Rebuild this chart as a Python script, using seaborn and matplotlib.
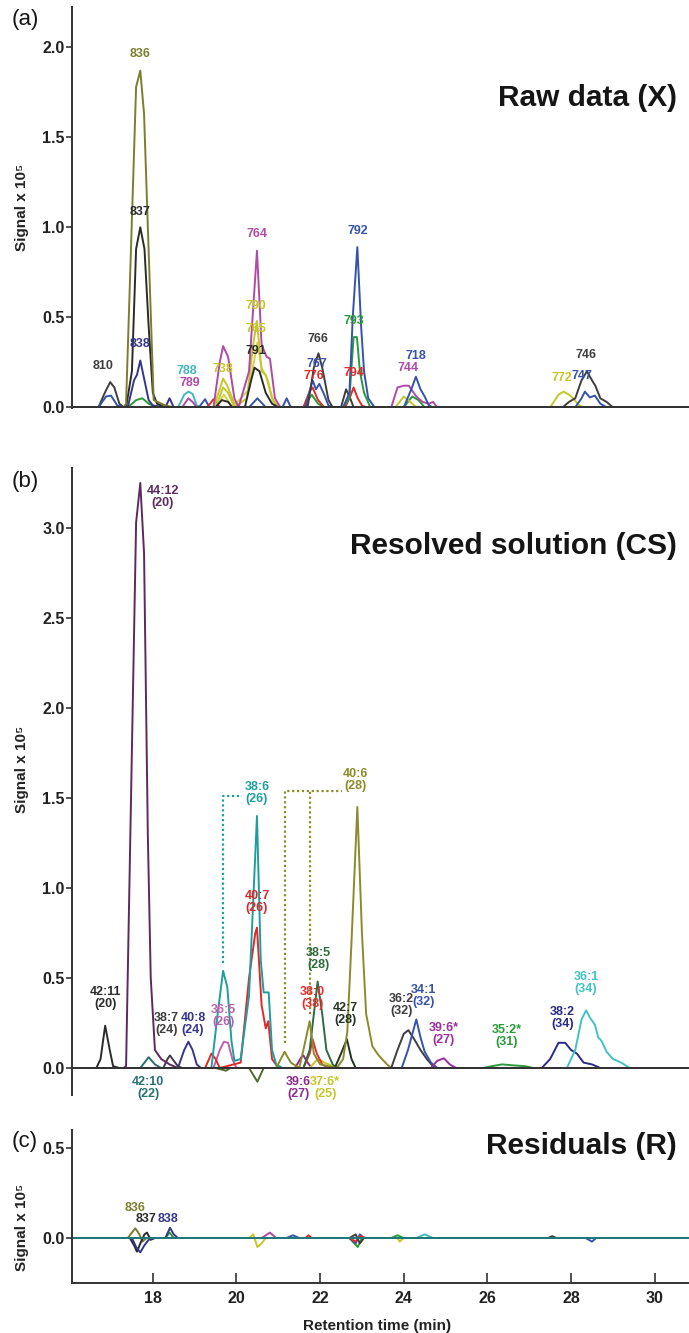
import matplotlib
matplotlib.use("Agg")
import matplotlib.pyplot as plt
import pandas as pd
import seaborn as sns

sns.set_theme(style="white")
plt.rcParams['font.family'] = ['Liberation Sans', 'DejaVu Sans']
plt.rcParams['font.weight'] = 'bold'

# ---------------------------------------------------------------------------
# Retention-time window (min)
T0, T1 = 16.06, 30.82

# ---------------------------------------------------------------------------
# (a) Raw extracted-ion chromatograms, (time, signal x 1e5) vertices per m/z
a_810 = [(16.7, 0.0), (16.85, 0.08), (16.98, 0.14), (17.08, 0.11), (17.2, 0.02), (17.3, 0.0)]
a_blue = [(16.7, 0.0), (16.88, 0.06), (17.0, 0.065), (17.15, 0.01), (17.3, 0.0),
          (19.1, 0.0), (19.25, 0.045), (19.35, 0.0), (20.3, 0.0), (20.5, 0.05), (20.7, 0.0),
          (21.1, 0.0), (21.2, 0.05), (21.3, 0.0)]
a_green = [(17.4, 0.0), (17.6, 0.04), (17.75, 0.05), (17.9, 0.02), (18.1, 0.0),
           (21.6, 0.0), (21.8, 0.07), (21.95, 0.02), (22.1, 0.0),
           (24.0, 0.0), (24.2, 0.06), (24.35, 0.04), (24.5, 0.0)]
a_836 = [(17.3, 0.0), (17.36, 0.02), (17.6, 1.78), (17.7, 1.87), (17.79, 1.63), (18.02, 0.04),
         (18.3, 0.01), (18.5, 0.0)]
a_837 = [(17.36, 0.0), (17.5, 0.2), (17.6, 0.88), (17.7, 1.0), (17.8, 0.88), (17.9, 0.45),
         (18.0, 0.08), (18.1, 0.02), (18.3, 0.0), (19.5, 0.0), (19.65, 0.04), (19.8, 0.03), (19.9, 0.0)]
a_838 = [(17.4, 0.0), (17.55, 0.15), (17.62, 0.18), (17.7, 0.26), (17.8, 0.15), (17.9, 0.04),
         (18.0, 0.01), (18.3, 0.0), (18.4, 0.05), (18.5, 0.0)]
a_788 = [(18.6, 0.0), (18.75, 0.07), (18.85, 0.087), (18.95, 0.075), (19.05, 0.01), (19.15, 0.0)]
a_789 = [(18.7, 0.0), (18.85, 0.05), (18.95, 0.03), (19.05, 0.0)]
a_776 = [(19.3, 0.0), (19.45, 0.045), (19.6, 0.0), (21.6, 0.0), (21.75, 0.09), (21.82, 0.11),
         (21.95, 0.04), (22.1, 0.0)]
a_764 = [(19.45, 0.0), (19.6, 0.25), (19.68, 0.34), (19.8, 0.28), (19.95, 0.05), (20.05, 0.0),
         (20.3, 0.2), (20.49, 0.87), (20.6, 0.35), (20.72, 0.28), (20.8, 0.27), (20.92, 0.05), (21.05, 0.0)]
a_738 = [(19.45, 0.0), (19.6, 0.1), (19.68, 0.16), (19.78, 0.12), (19.95, 0.02), (20.05, 0.0),
         (23.8, 0.0), (24.0, 0.06), (24.15, 0.03), (24.3, 0.0)]
a_790 = [(19.5, 0.0), (19.68, 0.11), (19.8, 0.08), (19.95, 0.0), (20.25, 0.05), (20.4, 0.35),
         (20.49, 0.48), (20.6, 0.2), (20.7, 0.18), (20.85, 0.05), (21.0, 0.0)]
a_765 = [(19.5, 0.0), (19.7, 0.07), (19.9, 0.0), (20.3, 0.1), (20.5, 0.36), (20.6, 0.22),
         (20.75, 0.15), (20.88, 0.03), (21.0, 0.0)]
a_791 = [(20.2, 0.0), (20.35, 0.15), (20.43, 0.22), (20.55, 0.2), (20.7, 0.08), (20.85, 0.02), (21.0, 0.0)]
a_766 = [(21.7, 0.0), (21.85, 0.22), (21.96, 0.30), (22.05, 0.22), (22.2, 0.04), (22.3, 0.0),
         (22.5, 0.0), (22.62, 0.1), (22.72, 0.05), (22.8, 0.0)]
a_767 = [(21.65, 0.0), (21.82, 0.15), (21.9, 0.1), (21.98, 0.13), (22.08, 0.08), (22.2, 0.01), (22.3, 0.0)]
a_792 = [(22.55, 0.0), (22.7, 0.08), (22.78, 0.5), (22.89, 0.89), (22.98, 0.45), (23.05, 0.2),
         (23.15, 0.05), (23.3, 0.0)]
a_793 = [(22.55, 0.0), (22.7, 0.05), (22.8, 0.39), (22.88, 0.39), (22.95, 0.2), (23.05, 0.08), (23.2, 0.0)]
a_794 = [(22.6, 0.0), (22.72, 0.06), (22.8, 0.11), (22.9, 0.05), (23.0, 0.01), (23.1, 0.0)]
a_744 = [(23.7, 0.0), (23.85, 0.11), (24.0, 0.12), (24.12, 0.12), (24.3, 0.06), (24.45, 0.03),
         (24.6, 0.02), (24.7, 0.03), (24.8, 0.0)]
a_718 = [(24.0, 0.0), (24.18, 0.1), (24.29, 0.17), (24.4, 0.1), (24.5, 0.06), (24.6, 0.01), (24.7, 0.0)]
a_772 = [(27.5, 0.0), (27.7, 0.07), (27.82, 0.087), (27.95, 0.07), (28.05, 0.05), (28.2, 0.01), (28.3, 0.0)]
a_746 = [(27.8, 0.0), (27.95, 0.03), (28.1, 0.05), (28.25, 0.15), (28.38, 0.2), (28.5, 0.15),
         (28.58, 0.12), (28.7, 0.05), (28.85, 0.03), (29.0, 0.0)]
a_747 = [(28.1, 0.0), (28.25, 0.05), (28.33, 0.087), (28.45, 0.055), (28.57, 0.065), (28.7, 0.02), (28.85, 0.0)]
a_base = [(20.0, 0.0)]

# (b) Resolved component profiles
b_4211 = [(16.65, 0.0), (16.75, 0.05), (16.86, 0.235), (16.97, 0.1), (17.05, 0.01), (17.2, 0.0)]
b_4412 = [(17.3, 0.0), (17.36, 0.01), (17.6, 3.03), (17.7, 3.25), (17.79, 2.86), (17.88, 1.3),
          (17.95, 0.5), (18.05, 0.1), (18.2, 0.05), (18.4, 0.02), (18.6, 0.0)]
b_4210 = [(17.7, 0.0), (17.9, 0.06), (18.05, 0.02), (18.2, 0.0)]
b_387 = [(18.25, 0.0), (18.35, 0.05), (18.41, 0.07), (18.5, 0.04), (18.6, 0.01), (18.7, 0.0)]
b_408 = [(18.6, 0.0), (18.75, 0.1), (18.85, 0.146), (18.95, 0.1), (19.05, 0.02), (19.15, 0.0)]
b_365 = [(19.45, 0.0), (19.6, 0.1), (19.7, 0.146), (19.8, 0.14), (19.9, 0.05), (20.0, 0.0)]
b_neg = [(19.5, 0.0), (19.75, -0.015), (19.85, 0.0), (20.3, 0.0), (20.5, -0.076), (20.65, 0.0), (21.0, 0.0)]
b_407 = [(19.25, 0.0), (19.4, 0.08), (19.5, 0.05), (19.6, 0.0), (20.1, 0.03), (20.3, 0.5),
         (20.45, 0.75), (20.49, 0.78), (20.6, 0.35), (20.7, 0.22), (20.76, 0.26), (20.85, 0.05), (21.0, 0.0)]
b_386 = [(19.4, 0.0), (19.55, 0.3), (19.68, 0.54), (19.78, 0.45), (19.88, 0.15), (19.95, 0.04),
         (20.1, 0.05), (20.3, 0.4), (20.49, 1.40), (20.58, 0.6), (20.65, 0.42), (20.77, 0.42),
         (20.85, 0.1), (20.95, 0.02), (21.1, 0.0)]
b_396 = [(21.4, 0.0), (21.55, 0.06), (21.6, 0.07), (21.7, 0.03), (21.8, 0.0)]
b_376s = [(21.75, 0.0), (21.9, 0.04), (21.96, 0.05), (22.1, 0.03), (22.3, 0.01), (22.5, 0.0)]
b_380 = [(21.6, 0.0), (21.75, 0.08), (21.82, 0.16), (21.92, 0.08), (22.05, 0.02), (22.2, 0.0)]
b_385 = [(21.6, 0.0), (21.75, 0.1), (21.85, 0.3), (21.94, 0.48), (22.05, 0.3), (22.15, 0.1),
         (22.3, 0.02), (22.4, 0.0)]
b_427 = [(22.35, 0.0), (22.5, 0.08), (22.64, 0.16), (22.75, 0.05), (22.85, 0.0)]
b_406 = [(20.95, 0.0), (21.15, 0.09), (21.3, 0.03), (21.5, 0.0), (21.6, 0.1), (21.75, 0.26),
         (21.85, 0.08), (22.0, 0.02), (22.4, 0.0), (22.55, 0.05), (22.65, 0.2), (22.75, 0.7),
         (22.89, 1.45), (23.0, 0.75), (23.1, 0.3), (23.25, 0.12), (23.4, 0.07), (23.6, 0.02), (23.7, 0.0)]
b_362 = [(23.7, 0.0), (23.85, 0.1), (24.0, 0.19), (24.11, 0.21), (24.25, 0.16), (24.4, 0.1),
         (24.55, 0.05), (24.7, 0.01), (24.8, 0.0)]
b_341 = [(23.95, 0.0), (24.1, 0.1), (24.3, 0.27), (24.4, 0.17), (24.5, 0.09), (24.65, 0.03), (24.8, 0.0)]
b_396s = [(24.65, 0.0), (24.8, 0.04), (24.96, 0.054), (25.1, 0.02), (25.25, 0.0)]
b_352s = [(25.9, 0.0), (26.1, 0.01), (26.35, 0.02), (26.6, 0.015), (26.9, 0.01), (27.1, 0.0)]
b_382 = [(27.3, 0.0), (27.5, 0.05), (27.7, 0.14), (27.86, 0.14), (28.0, 0.1), (28.14, 0.08),
         (28.3, 0.03), (28.5, 0.02), (28.7, 0.0)]
b_361 = [(27.9, 0.0), (28.1, 0.1), (28.25, 0.27), (28.36, 0.32), (28.45, 0.28), (28.57, 0.24),
         (28.65, 0.17), (28.73, 0.15), (28.85, 0.09), (29.0, 0.05), (29.2, 0.03), (29.4, 0.0)]
b_base = [(20.0, 0.0)]

# (c) Residuals
c_836 = [(17.4, 0.0), (17.5, 0.03), (17.58, 0.054), (17.68, 0.02), (17.75, -0.02), (17.85, 0.0)]
c_837 = [(17.45, 0.0), (17.55, -0.04), (17.62, -0.076), (17.72, -0.02), (17.8, 0.02),
         (17.86, 0.03), (17.95, -0.01), (18.05, 0.0)]
c_838 = [(17.5, 0.0), (17.6, -0.05), (17.7, -0.08), (17.8, -0.04), (17.9, -0.01), (18.0, 0.0),
         (18.3, 0.0), (18.41, 0.057), (18.5, 0.02), (18.6, 0.0)]
c_green = [(18.3, 0.0), (18.4, 0.03), (18.5, 0.0), (22.7, 0.0), (22.9, -0.05), (23.0, 0.0),
           (23.7, 0.0), (23.85, 0.015), (24.0, 0.0)]
c_yellow = [(20.3, 0.0), (20.4, 0.02), (20.5, -0.05), (20.6, -0.03), (20.7, 0.0),
            (23.85, 0.0), (23.9, -0.02), (24.0, 0.0)]
c_magenta = [(20.6, 0.0), (20.8, 0.03), (20.95, 0.0)]
c_blue = [(21.2, 0.0), (21.35, 0.015), (21.5, 0.0), (22.7, 0.0), (22.85, -0.03), (22.95, 0.02),
          (23.05, 0.0), (28.35, 0.0), (28.5, -0.02), (28.6, 0.0)]
c_red = [(21.65, 0.0), (21.72, 0.015), (21.8, 0.0), (22.7, 0.0), (22.85, -0.02), (22.95, 0.01), (23.1, 0.0)]
c_cyan = [(24.3, 0.0), (24.5, 0.02), (24.7, 0.0)]
c_dark = [(22.7, 0.0), (22.85, 0.02), (22.95, -0.03), (23.05, 0.0), (27.45, 0.0), (27.55, 0.01), (27.65, 0.0)]
c_base = [(20.0, 0.0)]

# Colours
OLIVE, DARK, NAVY, GREY = "#7d7d2f", "#2b2b2b", "#35358c", "#3e3e3e"
BLUE, GREEN, RED, CYAN = "#3553ad", "#2a9a3a", "#e02a2a", "#45b9b9"
MAGENTA, YELLOW, YELLOW2, TEAL = "#b04aa8", "#c6c628", "#d2d24a", "#1f7a7a"
PURPLE, DKTEAL, PINK, TEAL2 = "#5c2a5c", "#2a7070", "#c060b0", "#1f9e9e"
DKGREEN, DKOLIVE, VIOLET = "#2e6b3e", "#4f6a2a", "#8e2a8e"

traces_a = {
    "810": (a_810, GREY), "a_blue": (a_blue, BLUE), "a_green": (a_green, GREEN),
    "788": (a_788, CYAN), "789": (a_789, MAGENTA), "776": (a_776, RED),
    "738": (a_738, YELLOW), "765": (a_765, YELLOW2), "790": (a_790, YELLOW),
    "791": (a_791, DARK), "764": (a_764, MAGENTA), "767": (a_767, BLUE),
    "766": (a_766, GREY), "794": (a_794, RED), "793": (a_793, GREEN), "792": (a_792, BLUE),
    "744": (a_744, MAGENTA), "718": (a_718, BLUE), "772": (a_772, YELLOW),
    "747": (a_747, BLUE), "746": (a_746, GREY),
    "838": (a_838, NAVY), "837": (a_837, DARK), "836": (a_836, OLIVE), "a_base": (a_base, TEAL),
}
traces_b = {
    "42:11": (b_4211, DARK), "42:10": (b_4210, DKTEAL), "38:7": (b_387, GREY),
    "40:8": (b_408, NAVY), "36:5": (b_365, PINK), "neg": (b_neg, DKOLIVE),
    "40:7": (b_407, RED), "38:6": (b_386, TEAL2), "39:6": (b_396, VIOLET),
    "37:6*": (b_376s, YELLOW), "38:0": (b_380, "#e83030"), "38:5": (b_385, DKGREEN),
    "42:7": (b_427, "#233323"), "40:6": (b_406, "#8b8b2b"), "36:2": (b_362, GREY),
    "34:1": (b_341, BLUE), "39:6*": (b_396s, "#9c2f9c"), "35:2*": (b_352s, GREEN),
    "38:2": (b_382, "#2a2a88"), "36:1": (b_361, "#44c2c2"), "44:12": (b_4412, PURPLE),
    "b_base": (b_base, PURPLE),
}
traces_c = {
    "c_green": (c_green, GREEN), "c_yellow": (c_yellow, YELLOW), "c_magenta": (c_magenta, MAGENTA),
    "c_blue": (c_blue, BLUE), "c_red": (c_red, RED), "c_cyan": (c_cyan, CYAN), "c_dark": (c_dark, GREY),
    "c_836": (c_836, OLIVE), "c_837": (c_837, DARK), "c_838": (c_838, NAVY), "c_base": (c_base, TEAL),
}

# Peak annotations: (text, time, height, colour)
labels_a = [
    ("836", 17.70, 1.96, OLIVE), ("837", 17.70, 1.085, DARK), ("838", 17.70, 0.35, NAVY),
    ("810", 16.82, 0.23, GREY), ("788", 18.81, 0.20, CYAN), ("789", 18.89, 0.135, MAGENTA),
    ("738", 19.67, 0.21, YELLOW), ("764", 20.49, 0.96, MAGENTA), ("790", 20.47, 0.56, YELLOW),
    ("765", 20.47, 0.435, YELLOW), ("791", 20.47, 0.31, DARK), ("766", 21.94, 0.38, GREY),
    ("767", 21.93, 0.24, BLUE), ("776", 21.86, 0.175, RED), ("792", 22.89, 0.98, BLUE),
    ("793", 22.80, 0.48, GREEN), ("794", 22.80, 0.19, RED), ("718", 24.29, 0.285, BLUE),
    ("744", 24.11, 0.22, MAGENTA), ("772", 27.78, 0.16, YELLOW), ("747", 28.26, 0.175, BLUE),
    ("746", 28.36, 0.29, GREY),
]
labels_b = [
    ("44:12\n(20)", 18.24, 3.17, PURPLE), ("42:11\n(20)", 16.86, 0.39, DARK),
    ("42:10\n(22)", 17.89, -0.11, DKTEAL), ("38:7\n(24)", 18.33, 0.245, GREY),
    ("40:8\n(24)", 18.96, 0.245, NAVY), ("36:5\n(26)", 19.69, 0.29, PINK),
    ("38:6\n(26)", 20.49, 1.53, TEAL2), ("40:7\n(26)", 20.49, 0.92, "#d42a2a"),
    ("40:6\n(28)", 22.84, 1.60, "#8b8b2b"), ("38:5\n(28)", 21.96, 0.605, DKGREEN),
    ("38:0\n(38)", 21.81, 0.39, "#e83030"), ("42:7\n(28)", 22.60, 0.30, "#233323"),
    ("39:6\n(27)", 21.48, -0.11, VIOLET), ("37:6*\n(25)", 22.12, -0.11, YELLOW),
    ("36:2\n(32)", 23.95, 0.35, GREY), ("34:1\n(32)", 24.47, 0.40, BLUE),
    ("39:6*\n(27)", 24.96, 0.19, "#9c2f9c"), ("35:2*\n(31)", 26.46, 0.18, GREEN),
    ("38:2\n(34)", 27.79, 0.28, "#2a2a88"), ("36:1\n(34)", 28.36, 0.47, "#44c2c2"),
]
labels_c = [("836", 17.58, 0.165, OLIVE), ("837", 17.84, 0.105, DARK), ("838", 18.37, 0.105, NAVY)]

# ---------------------------------------------------------------------------
W, H = 689, 1333
fig = plt.figure(figsize=(W / 100, H / 100), dpi=100)


def box(left, top, right, bottom):
    return [left / W, 1 - bottom / H, (right - left) / W, (bottom - top) / H]


def to_frame(traces):
    rows = []
    for name, (pts, _) in traces.items():
        seq = [(T0, 0.0)] + list(pts) + [(T1, 0.0)]
        for i, (t, v) in enumerate(seq):
            rows.append({"trace": name, "order": i, "t": t, "v": v})
    return pd.DataFrame(rows)


def draw(ax, traces, lw=1.4):
    df = to_frame(traces)
    palette = {k: c for k, (_, c) in traces.items()}
    sns.lineplot(data=df, x="t", y="v", hue="trace", hue_order=list(traces.keys()),
                 palette=palette, estimator=None, sort=False, legend=False,
                 linewidth=lw, ax=ax)


SPINE = "#333333"


def style(ax, ylim, yticks, bottom_at_zero=True):
    ax.set_xlim(T0, T1)
    ax.set_ylim(*ylim)
    for s in ("top", "right"):
        ax.spines[s].set_visible(False)
    for s in ("left", "bottom"):
        ax.spines[s].set_color(SPINE)
        ax.spines[s].set_linewidth(1.4)
    if bottom_at_zero:
        ax.spines["bottom"].set_position(("data", 0))
        ax.set_xticks([])
    ax.set_yticks(yticks)
    ax.set_yticklabels([f"{v:.1f}" for v in yticks])
    ax.tick_params(axis="y", direction="out", length=4, width=1.2, color=SPINE,
                   labelsize=11.5, pad=1, left=True, labelcolor="#222222")
    ax.set_xlabel("")
    ax.set_ylabel("Signal x 10⁵", fontsize=11, fontweight="bold", color="#222222")
    ax.grid(False)
    ax.set_facecolor("none")


LBL = dict(ha="center", va="center", fontsize=9, fontweight="bold", linespacing=1.0)

# (a) raw data
ax_a = fig.add_axes(box(71.7, 6.6, 689, 408.2))
draw(ax_a, traces_a)
style(ax_a, (-0.005, 2.226), [0.0, 0.5, 1.0, 1.5, 2.0])
ax_a.yaxis.set_label_coords(-0.069, 0.5)
for txt, t, y, c in labels_a:
    ax_a.text(t, y, txt, color=c, **LBL)

# (b) resolved solution
ax_b = fig.add_axes(box(71.7, 468, 689, 1095))
draw(ax_b, traces_b)
style(ax_b, (-0.15, 3.333), [0.0, 0.5, 1.0, 1.5, 2.0, 2.5, 3.0])
ax_b.yaxis.set_label_coords(-0.069, 0.52)
for txt, t, y, c in labels_b:
    ax_b.text(t, y, txt, color=c, **LBL)

# dotted brackets tying secondary elution peaks to their component label
DOT = dict(linestyle=(0, (1, 1.2)), linewidth=1.6)
ax_b.plot([19.67, 19.67, 20.13], [0.585, 1.51, 1.51], color=TEAL2, **DOT)
ax_b.plot([21.16, 21.16, 22.52], [0.14, 1.54, 1.54], color="#8b8b2b", **DOT)
ax_b.plot([21.76, 21.76], [0.30, 1.54], color="#8b8b2b", **DOT)

# (c) residuals
ax_c = fig.add_axes(box(71.7, 1130, 689, 1283))
draw(ax_c, traces_c)
style(ax_c, (-0.25, 0.6), [0.0, 0.5], bottom_at_zero=False)
ax_c.set_xticks([18, 20, 22, 24, 26, 28, 30])
ax_c.set_xticklabels(["18", "20", "22", "24", "26", "28", "30"])
ax_c.tick_params(axis="x", direction="in", length=7, width=1.2, color=SPINE,
                 labelsize=11.5, pad=6, bottom=True, labelcolor="#222222")
ax_c.set_xlabel("Retention time (min)", fontsize=11, fontweight="bold", color="#222222")
ax_c.xaxis.set_label_coords(0.495, -0.235)
ax_c.yaxis.set_label_coords(-0.069, 0.366)
for txt, t, y, c in labels_c:
    ax_c.text(t, y, txt, color=c, **LBL)


# Panel titles and letters
def ftext(x, y, s, **kw):
    fig.text(x / W, 1 - y / H, s, **kw)


TITLE = dict(ha="right", va="center", fontsize=21.5, fontweight="bold", color="#151515")
ftext(677, 98, "Raw data (X)", **TITLE)
ftext(677, 546, "Resolved solution (CS)", **TITLE)
ftext(677, 1146, "Residuals (R)", **TITLE)

LET = dict(ha="center", va="center", fontsize=16, fontweight="normal", color="#151515")
ftext(25, 19, "(a)", **LET)
ftext(25, 481, "(b)", **LET)
ftext(25, 1142, "(c)", **LET)

fig.savefig("out.png", dpi=100, facecolor="white")
